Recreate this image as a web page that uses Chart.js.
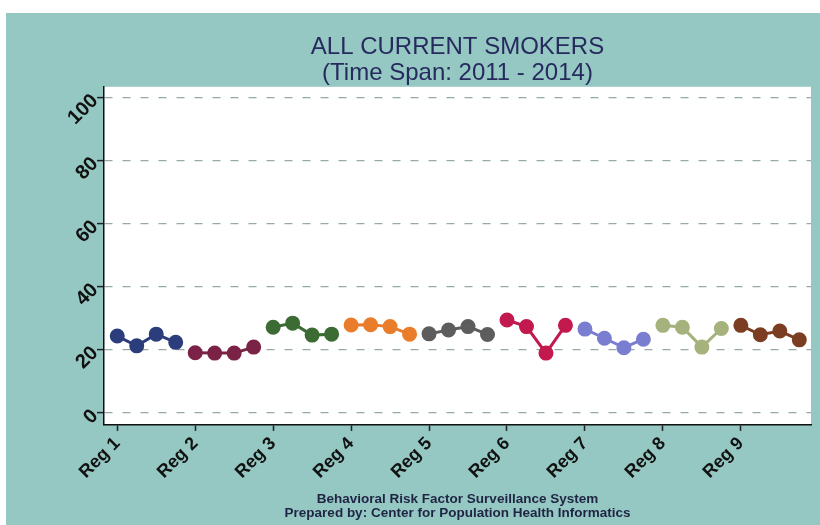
<!DOCTYPE html>
<html>
<head>
<meta charset="utf-8">
<script src="https://cdn.jsdelivr.net/npm/chart.js@4/dist/chart.umd.min.js"></script>
<style>
  html, body { margin: 0; padding: 0; background: #ffffff; }
  #wrap { position: absolute; left: 0; top: 0; width: 820px; height: 525px; }
</style>
</head>
<body>
<div id="wrap"><canvas id="smokersChart" width="820" height="525"></canvas></div>
<script>
const regionLabels = ['Reg 1', 'Reg 2', 'Reg 3', 'Reg 4', 'Reg 5', 'Reg 6', 'Reg 7', 'Reg 8', 'Reg 9'];
const years = [2011, 2012, 2013, 2014];
const yearOffsets = [0, 0.25, 0.5, 0.75];
const yTicks = [0, 20, 40, 60, 80, 100];

const reg1 = [24.4, 21.3, 25.0, 22.4];
const reg2 = [19.1, 19.0, 19.0, 20.9];
const reg3 = [27.2, 28.5, 24.7, 25.0];
const reg4 = [27.9, 28.0, 27.4, 25.0];
const reg5 = [25.1, 26.3, 27.4, 24.9];
const reg6 = [29.5, 27.4, 19.0, 27.8];
const reg7 = [26.6, 23.7, 20.7, 23.4];
const reg8 = [27.8, 27.2, 20.9, 26.8];
const reg9 = [27.8, 24.8, 26.0, 23.2];

const regionValues = [reg1, reg2, reg3, reg4, reg5, reg6, reg7, reg8, reg9];
const regionColors = ['#2c3d7c', '#7b2346', '#3d6b34', '#e97d2b', '#5d5d5d', '#c2194f', '#7a7ed0', '#a5b27c', '#7b3e22'];

const fontFamily = "'Liberation Sans', Arial, Helvetica, sans-serif";

const backdrop = {
  id: 'backdrop',
  beforeDraw(chart) {
    const { ctx, chartArea } = chart;
    ctx.save();
    ctx.fillStyle = '#95c8c2';
    ctx.fillRect(6, 13, chart.width - 6, chart.height - 13);
    ctx.fillStyle = '#ffffff';
    ctx.fillRect(chartArea.left, chartArea.top, chartArea.right - chartArea.left, chartArea.bottom - chartArea.top);
    ctx.restore();
  },
};

const datasets = regionValues.map((vals, i) => ({
  label: regionLabels[i],
  data: vals.map((v, j) => ({ x: i + 1 + yearOffsets[j], y: v, year: years[j] })),
  borderColor: regionColors[i],
  backgroundColor: regionColors[i],
  pointBackgroundColor: regionColors[i],
  pointBorderColor: regionColors[i],
  pointRadius: 6,
  borderWidth: 3,
  showLine: true,
  tension: 0,
}));

new Chart(document.getElementById('smokersChart'), {
  type: 'scatter',
  data: { datasets },
  plugins: [backdrop],
  options: {
    responsive: false,
    animation: false,
    layout: { padding: { left: 0, right: 6, top: 0, bottom: 0 } },
    plugins: {
      legend: { display: false },
      tooltip: { enabled: false },
      title: {
        display: true,
        fullSize: false,
        text: ['ALL CURRENT SMOKERS', '(Time Span: 2011 - 2014)'],
        color: '#262a5e',
        font: { family: fontFamily, size: 24, weight: 'normal', lineHeight: 1.1 },
        padding: { top: 34, bottom: 0 },
      },
      subtitle: {
        display: true,
        fullSize: false,
        position: 'bottom',
        text: ['Behavioral Risk Factor Surveillance System', 'Prepared by: Center for Population Health Informatics'],
        color: '#1f2444',
        font: { family: fontFamily, size: 13.5, weight: 'bold', lineHeight: 1.04 },
        padding: { top: 0, bottom: 5 },
      },
    },
    scales: {
      x: {
        type: 'linear',
        min: 0.83,
        max: 9.9,
        afterBuildTicks(axis) {
          axis.ticks = regionLabels.map((_, i) => ({ value: i + 1 }));
        },
        afterFit(axis) {
          axis.height = 67;
        },
        ticks: {
          autoSkip: false,
          minRotation: 45,
          maxRotation: 45,
          padding: 2,
          color: '#111111',
          font: { family: fontFamily, size: 18, weight: 'bold' },
          callback(value) {
            return regionLabels[Math.round(value) - 1] || '';
          },
        },
        grid: { drawOnChartArea: false, drawTicks: true, tickLength: 6, tickColor: '#222222', tickWidth: 1.5 },
        border: { display: true, color: '#111111', width: 1.5 },
      },
      y: {
        min: -3.8,
        max: 103.5,
        afterBuildTicks(axis) {
          axis.ticks = yTicks.map((v) => ({ value: v }));
        },
        afterFit(axis) {
          axis.width = 104;
        },
        ticks: {
          minRotation: 45,
          maxRotation: 45,
          padding: 2,
          color: '#111111',
          font: { family: fontFamily, size: 20, weight: 'bold' },
        },
        grid: {
          color: '#98aaa6',
          lineWidth: 1.2,
          drawTicks: true,
          tickLength: 7,
          tickColor: '#222222',
          tickWidth: 1.5,
          tickBorderDash: [],
        },
        border: { display: true, color: '#111111', width: 1.5, dash: [8, 10] },
      },
    },
  },
});
</script>
</body>
</html>
